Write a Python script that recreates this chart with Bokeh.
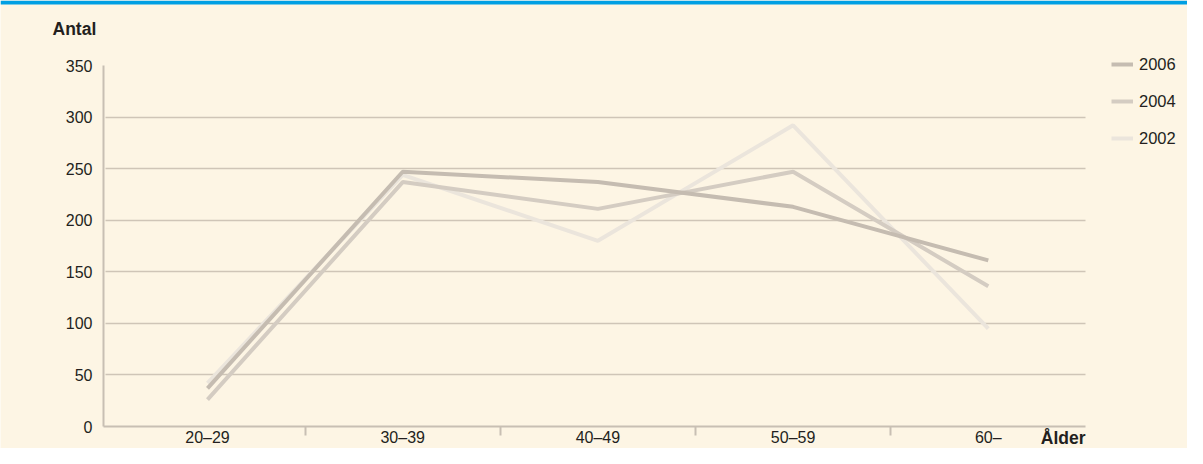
from bokeh.plotting import figure
from bokeh.models import FixedTicker, Legend, LegendItem, Label, BoxAnnotation, Range1d
from bokeh.embed import file_html
from bokeh.resources import INLINE

categories = ["20–29", "30–39", "40–49", "50–59", "60–"]
series_names = ["2006", "2004", "2002"]
v2006 = [37, 247, 237, 213, 161]
v2004 = [26, 237, 211, 247, 136]
v2002 = [42, 244, 180, 292, 95]
y_ticks = [0, 50, 100, 150, 200, 250, 300, 350]

series_values = {"2006": v2006, "2004": v2004, "2002": v2002}
series_colors = {"2006": "#c5bcb1", "2004": "#d4ccc2", "2002": "#ebe5dc"}

BG = "#fdf5e4"
TXT = "#231f20"
AX = "#c8bfb3"
FONT = "Liberation Sans"
FS = "16px"

W, H = 1187, 448
x = list(range(len(categories)))

# plotting area spans the whole canvas; axes are drawn at fixed data locations
px_per_x = 195.2
x_start = -207 / px_per_x
x_end = x_start + W / px_per_x
x_left = -(207 - 103) / px_per_x         # left edge of chart area (y axis)
x_right = (1085 - 207) / px_per_x        # right end of x axis
y_top_px, y_bot_px = 65, 426             # canvas rows of 350 and 0
px_per_y = (y_bot_px - y_top_px) / 350
y_end = 350 + y_top_px / px_per_y
y_start = -(H - y_bot_px) / px_per_y

p = figure(width=W, height=H, output_backend="svg", toolbar_location=None,
           x_range=Range1d(x_start, x_end), y_range=Range1d(y_start, y_end),
           min_border=0, min_border_left=0, min_border_right=0,
           min_border_top=0, min_border_bottom=0)
p.background_fill_color = BG
p.border_fill_color = BG
p.outline_line_color = None

renderers = {}
for name in ["2002", "2004", "2006"]:
    renderers[name] = p.line(x, series_values[name], line_color=series_colors[name], line_width=4)

# x axis
xa = p.xaxis[0]
xa.fixed_location = 0
xa.bounds = (x_left, x_right)
xa.ticker = FixedTicker(ticks=x, minor_ticks=[i + 0.5 for i in x[:-1]])
xa.major_label_overrides = {i: c for i, c in zip(x, categories)}
xa.major_tick_out = 0
xa.major_tick_in = 0
xa.minor_tick_out = 9
xa.minor_tick_in = 0
xa.minor_tick_line_color = AX
xa.minor_tick_line_width = 2
xa.axis_line_color = AX
xa.axis_line_width = 2
xa.major_label_standoff = -7
xa.major_label_text_font = FONT
xa.major_label_text_font_size = FS
xa.major_label_text_color = TXT

ya = p.yaxis[0]
ya.fixed_location = x_left
ya.bounds = (0, 350)
ya.ticker = FixedTicker(ticks=y_ticks)
ya.major_tick_out = 0
ya.major_tick_in = 0
ya.minor_tick_out = 0
ya.minor_tick_in = 0
ya.axis_line_color = AX
ya.axis_line_width = 2
ya.major_label_standoff = 11
ya.major_label_text_font = FONT
ya.major_label_text_font_size = FS
ya.major_label_text_color = TXT

p.xgrid.visible = False
p.ygrid.ticker = FixedTicker(ticks=y_ticks[1:-1])
p.ygrid.cross_bounds = (x_left + 0.01, x_right)
p.ygrid.grid_line_color = "#cfc5b7"
p.ygrid.grid_line_width = 1.5

legend = Legend(items=[LegendItem(label=n, renderers=[renderers[n]]) for n in series_names],
                location=(1111, 300), margin=0, padding=0, spacing=17,
                glyph_width=22, glyph_height=20, label_standoff=6,
                label_text_font=FONT, label_text_font_size="16.5px", label_text_color=TXT,
                border_line_color=None, background_fill_alpha=0)
p.add_layout(legend, "center")

p.add_layout(Label(x=52, y=H - 28, x_units="screen", y_units="screen", text="Antal",
                   text_font=FONT, text_font_size="17.5px", text_font_style="bold",
                   text_color=TXT, text_baseline="alphabetic"))
p.add_layout(Label(x=1085, y=H - 437, x_units="screen", y_units="screen", text="Ålder",
                   text_font=FONT, text_font_size="17.5px", text_font_style="bold",
                   text_color=TXT, text_align="right", text_baseline="alphabetic"))
p.add_layout(BoxAnnotation(left=0, right=W, bottom=H - 4, top=H,
                           left_units="screen", right_units="screen",
                           bottom_units="screen", top_units="screen",
                           fill_color="#009fe3", fill_alpha=1, line_color=None))

open("out.html", "w").write(file_html(p, INLINE))
